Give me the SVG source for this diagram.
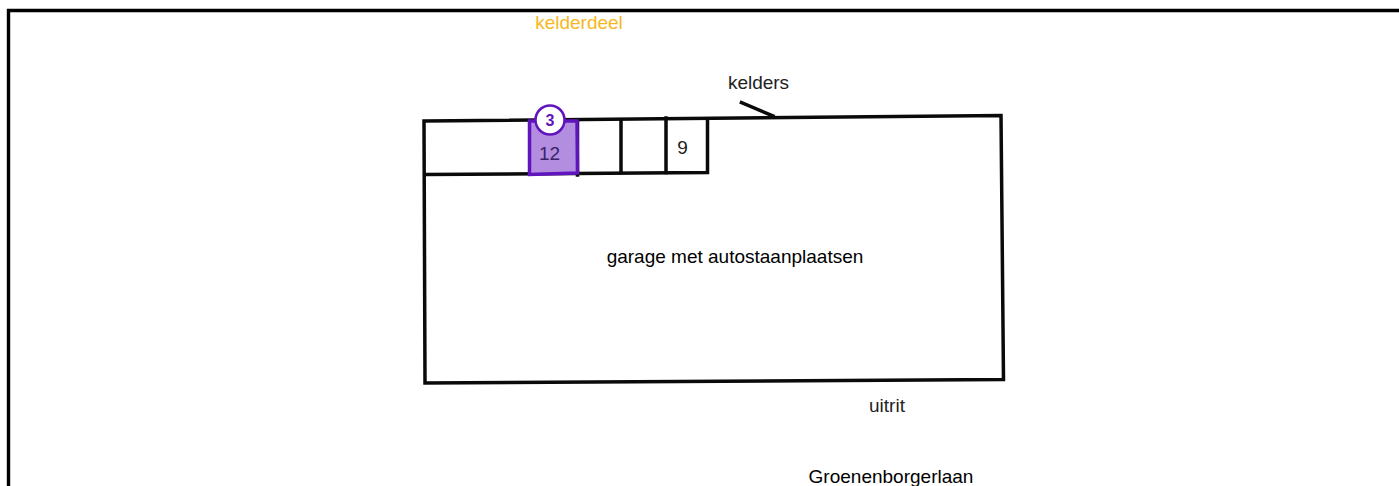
<svg xmlns="http://www.w3.org/2000/svg" width="1399" height="486" viewBox="0 0 1399 486">
<style>
.w{fill:none;stroke:#0a0a0a;stroke-width:3.5;stroke-linecap:square;stroke-linejoin:miter}
.t{font-family:"Liberation Sans",Arial,sans-serif;font-size:19px;fill:#222}
.c{text-anchor:middle}
</style>
<rect width="1399" height="486" fill="#fff"/>
<path d="M8.500 486V10.500H1399" fill="none" stroke="#000" stroke-width="3.400"/>
<g id="walls">
<path class="w" d="M424 121L1001 115.500L1003.500 379.500L425 383L424 121Z"/>
<path class="w" d="M425 174.500L707.500 172.500V119"/>
<path class="w" d="M621 120V172.500M666 118V172.500M577.500 121V175"/>
<path class="w" d="M741.500 102.500L773 116"/>
</g>
<g id="unit-12">
<path d="M529.500 121H577L577.500 173L529.500 174.500Z" fill="#b38de0" stroke="#5f14bd" stroke-width="3.500"/>
<text class="t c" x="549.500" y="160" style="fill:#3c2266">12</text>
</g>
<g id="marker-3">
<circle cx="550" cy="120" r="14.500" fill="#fff" stroke="#5f14bd" stroke-width="2.500"/>
<text x="550" y="125.500" text-anchor="middle" style="font-family:'Liberation Sans',Arial,sans-serif;font-size:16px;font-weight:700;fill:#5f14bd">3</text>
</g>
<g id="unit-9"><text class="t c" x="682.500" y="154">9</text></g>
<text x="579" y="29" text-anchor="middle" style="font-family:'Liberation Sans',Arial,sans-serif;font-size:19px;fill:#f6b81e">kelderdeel</text>
<text class="t c" x="758.500" y="89">kelders</text>
<text class="t c" x="735" y="263" style="fill:#000">garage met autostaanplaatsen</text>
<text class="t c" x="887" y="412">uitrit</text>
<text class="t c" x="891" y="483" style="fill:#000">Groenenborgerlaan</text>
</svg>
